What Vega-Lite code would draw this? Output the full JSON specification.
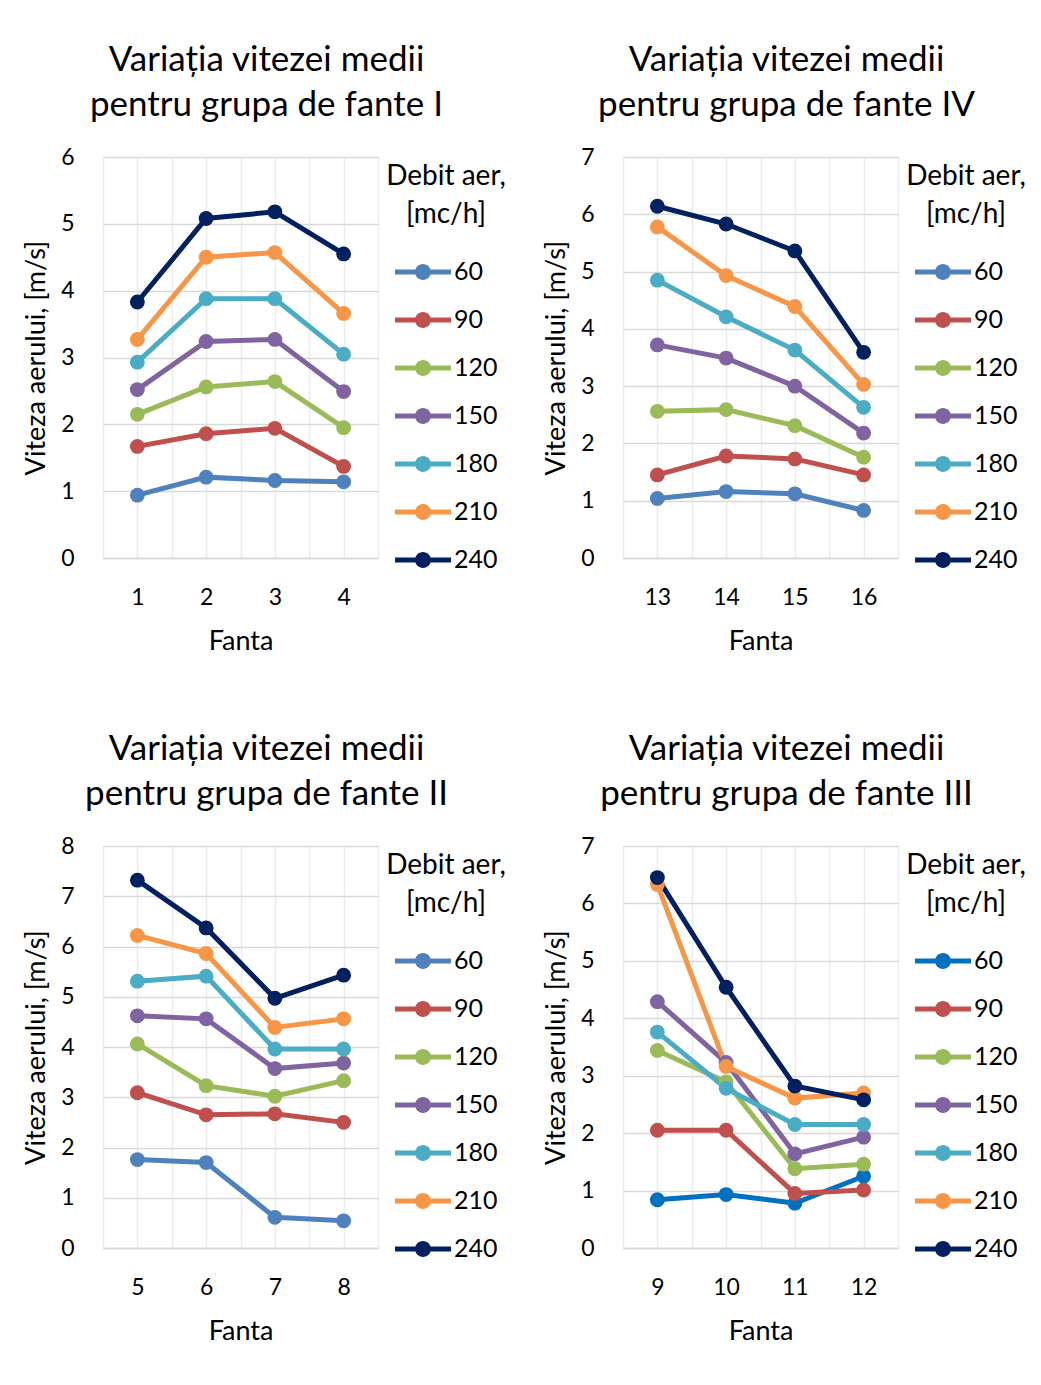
{
  "$schema": "https://vega.github.io/schema/vega-lite/v6.json",
  "background": "white",
  "padding": {"left": 22, "top": 43, "right": 5, "bottom": 5},
  "config": {
    "font": "Lato",
    "view": {"stroke": null},
    "axis": {"labelFont": "Lato", "titleFont": "Lato", "labelFontSize": 23, "titleFontSize": 27, "titleFontWeight": "normal", "labelColor": "#000000", "titleColor": "#000000", "ticks": false},
    "axisX": {"gridColor": "#ececec", "gridWidth": 1.5, "domainColor": "#d9d9d9", "domainWidth": 1.5, "labelPadding": 28, "titlePadding": 19, "format": "d"},
    "axisY": {"gridColor": "#d9d9d9", "gridWidth": 1.5, "domain": false, "labelPadding": 29, "titlePadding": 10},
    "title": {"font": "Lato", "fontSize": 35, "fontWeight": "normal", "lineHeight": 45, "anchor": "middle", "offset": 23, "color": "#000000", "dx": 26}
  },
  "datasets": {
    "g1": [
      {"fanta": 1, "debit": 60, "viteza": 0.94}, {"fanta": 2, "debit": 60, "viteza": 1.21}, {"fanta": 3, "debit": 60, "viteza": 1.16}, {"fanta": 4, "debit": 60, "viteza": 1.14},
      {"fanta": 1, "debit": 90, "viteza": 1.67}, {"fanta": 2, "debit": 90, "viteza": 1.86}, {"fanta": 3, "debit": 90, "viteza": 1.94}, {"fanta": 4, "debit": 90, "viteza": 1.37},
      {"fanta": 1, "debit": 120, "viteza": 2.15}, {"fanta": 2, "debit": 120, "viteza": 2.56}, {"fanta": 3, "debit": 120, "viteza": 2.64}, {"fanta": 4, "debit": 120, "viteza": 1.95},
      {"fanta": 1, "debit": 150, "viteza": 2.52}, {"fanta": 2, "debit": 150, "viteza": 3.24}, {"fanta": 3, "debit": 150, "viteza": 3.27}, {"fanta": 4, "debit": 150, "viteza": 2.49},
      {"fanta": 1, "debit": 180, "viteza": 2.93}, {"fanta": 2, "debit": 180, "viteza": 3.88}, {"fanta": 3, "debit": 180, "viteza": 3.88}, {"fanta": 4, "debit": 180, "viteza": 3.05},
      {"fanta": 1, "debit": 210, "viteza": 3.27}, {"fanta": 2, "debit": 210, "viteza": 4.50}, {"fanta": 3, "debit": 210, "viteza": 4.57}, {"fanta": 4, "debit": 210, "viteza": 3.66},
      {"fanta": 1, "debit": 240, "viteza": 3.83}, {"fanta": 2, "debit": 240, "viteza": 5.08}, {"fanta": 3, "debit": 240, "viteza": 5.18}, {"fanta": 4, "debit": 240, "viteza": 4.55}
    ],
    "g4": [
      {"fanta": 13, "debit": 60, "viteza": 1.04}, {"fanta": 14, "debit": 60, "viteza": 1.16}, {"fanta": 15, "debit": 60, "viteza": 1.12}, {"fanta": 16, "debit": 60, "viteza": 0.83},
      {"fanta": 13, "debit": 90, "viteza": 1.45}, {"fanta": 14, "debit": 90, "viteza": 1.78}, {"fanta": 15, "debit": 90, "viteza": 1.73}, {"fanta": 16, "debit": 90, "viteza": 1.45},
      {"fanta": 13, "debit": 120, "viteza": 2.56}, {"fanta": 14, "debit": 120, "viteza": 2.59}, {"fanta": 15, "debit": 120, "viteza": 2.31}, {"fanta": 16, "debit": 120, "viteza": 1.76},
      {"fanta": 13, "debit": 150, "viteza": 3.72}, {"fanta": 14, "debit": 150, "viteza": 3.49}, {"fanta": 15, "debit": 150, "viteza": 3.00}, {"fanta": 16, "debit": 150, "viteza": 2.18},
      {"fanta": 13, "debit": 180, "viteza": 4.85}, {"fanta": 14, "debit": 180, "viteza": 4.21}, {"fanta": 15, "debit": 180, "viteza": 3.63}, {"fanta": 16, "debit": 180, "viteza": 2.63},
      {"fanta": 13, "debit": 210, "viteza": 5.78}, {"fanta": 14, "debit": 210, "viteza": 4.93}, {"fanta": 15, "debit": 210, "viteza": 4.39}, {"fanta": 16, "debit": 210, "viteza": 3.03},
      {"fanta": 13, "debit": 240, "viteza": 6.14}, {"fanta": 14, "debit": 240, "viteza": 5.83}, {"fanta": 15, "debit": 240, "viteza": 5.36}, {"fanta": 16, "debit": 240, "viteza": 3.59}
    ],
    "g2": [
      {"fanta": 5, "debit": 60, "viteza": 1.76}, {"fanta": 6, "debit": 60, "viteza": 1.70}, {"fanta": 7, "debit": 60, "viteza": 0.61}, {"fanta": 8, "debit": 60, "viteza": 0.54},
      {"fanta": 5, "debit": 90, "viteza": 3.09}, {"fanta": 6, "debit": 90, "viteza": 2.65}, {"fanta": 7, "debit": 90, "viteza": 2.67}, {"fanta": 8, "debit": 90, "viteza": 2.50},
      {"fanta": 5, "debit": 120, "viteza": 4.06}, {"fanta": 6, "debit": 120, "viteza": 3.23}, {"fanta": 7, "debit": 120, "viteza": 3.02}, {"fanta": 8, "debit": 120, "viteza": 3.33},
      {"fanta": 5, "debit": 150, "viteza": 4.62}, {"fanta": 6, "debit": 150, "viteza": 4.56}, {"fanta": 7, "debit": 150, "viteza": 3.57}, {"fanta": 8, "debit": 150, "viteza": 3.68},
      {"fanta": 5, "debit": 180, "viteza": 5.31}, {"fanta": 6, "debit": 180, "viteza": 5.41}, {"fanta": 7, "debit": 180, "viteza": 3.96}, {"fanta": 8, "debit": 180, "viteza": 3.96},
      {"fanta": 5, "debit": 210, "viteza": 6.22}, {"fanta": 6, "debit": 210, "viteza": 5.86}, {"fanta": 7, "debit": 210, "viteza": 4.39}, {"fanta": 8, "debit": 210, "viteza": 4.56},
      {"fanta": 5, "debit": 240, "viteza": 7.32}, {"fanta": 6, "debit": 240, "viteza": 6.37}, {"fanta": 7, "debit": 240, "viteza": 4.97}, {"fanta": 8, "debit": 240, "viteza": 5.43}
    ],
    "g3": [
      {"fanta": 9, "debit": 60, "viteza": 0.84}, {"fanta": 10, "debit": 60, "viteza": 0.93}, {"fanta": 11, "debit": 60, "viteza": 0.78}, {"fanta": 12, "debit": 60, "viteza": 1.25},
      {"fanta": 9, "debit": 90, "viteza": 2.05}, {"fanta": 10, "debit": 90, "viteza": 2.05}, {"fanta": 11, "debit": 90, "viteza": 0.95}, {"fanta": 12, "debit": 90, "viteza": 1.01},
      {"fanta": 9, "debit": 120, "viteza": 3.44}, {"fanta": 10, "debit": 120, "viteza": 2.89}, {"fanta": 11, "debit": 120, "viteza": 1.38}, {"fanta": 12, "debit": 120, "viteza": 1.46},
      {"fanta": 9, "debit": 150, "viteza": 4.29}, {"fanta": 10, "debit": 150, "viteza": 3.23}, {"fanta": 11, "debit": 150, "viteza": 1.64}, {"fanta": 12, "debit": 150, "viteza": 1.93},
      {"fanta": 9, "debit": 180, "viteza": 3.76}, {"fanta": 10, "debit": 180, "viteza": 2.78}, {"fanta": 11, "debit": 180, "viteza": 2.15}, {"fanta": 12, "debit": 180, "viteza": 2.15},
      {"fanta": 9, "debit": 210, "viteza": 6.33}, {"fanta": 10, "debit": 210, "viteza": 3.16}, {"fanta": 11, "debit": 210, "viteza": 2.61}, {"fanta": 12, "debit": 210, "viteza": 2.70},
      {"fanta": 9, "debit": 240, "viteza": 6.45}, {"fanta": 10, "debit": 240, "viteza": 4.54}, {"fanta": 11, "debit": 240, "viteza": 2.82}, {"fanta": 12, "debit": 240, "viteza": 2.58}
    ]
  },
  "bounds": "flush",
  "spacing": 689,
  "resolve": {"scale": {"color": "independent"}, "legend": {"color": "independent"}},
  "vconcat": [
    {
      "bounds": "flush",
      "spacing": 245,
      "resolve": {"scale": {"color": "independent"}, "legend": {"color": "independent"}},
      "hconcat": [
        {
          "width": 275, "height": 401,
          "title": {"text": ["Variația vitezei medii", "pentru grupa de fante I"]},
          "data": {"name": "g1"},
          "encoding": {
            "x": {"field": "fanta", "type": "quantitative", "scale": {"domain": [0.5, 4.5], "nice": false}, "axis": {"values": [0.5, 1, 1.5, 2, 2.5, 3, 3.5, 4, 4.5], "labelExpr": "datum.value % 1 === 0 ? datum.label : ''", "title": "Fanta"}},
            "y": {"field": "viteza", "type": "quantitative", "scale": {"domain": [0, 6], "nice": false}, "axis": {"values": [0, 1, 2, 3, 4, 5, 6], "title": "Viteza aerului, [m/s]"}},
            "color": {"field": "debit", "type": "ordinal", "scale": {"domain": [60, 90, 120, 150, 180, 210, 240], "range": ["#4F81BD", "#C0504D", "#9BBB59", "#8064A2", "#4BACC6", "#F79646", "#002060"]}, "legend": {"title": ["Debit aer,", "[mc/h]"], "titleFontSize": 28, "titleFontWeight": "normal", "labelFontSize": 25, "titleAlign": "center", "titleAnchor": "middle", "titleLineHeight": 38, "titlePadding": 29, "symbolType": "M-1,-0.18L3,-0.18L3,0.18L-1,0.18Z M0.43,0A0.57,0.57 0 1,1 1.57,0A0.57,0.57 0 1,1 0.43,0Z", "symbolSize": 784, "symbolStrokeWidth": 0, "symbolOpacity": 1, "labelOffset": 31, "rowPadding": 21, "offset": 2, "padding": 6, "labelColor": "#000000", "titleColor": "#000000", "titleLimit": 300}}
          },
          "layer": [
            {"mark": {"type": "line", "strokeWidth": 5}},
            {"mark": {"type": "point", "filled": true, "size": 220, "opacity": 1}}
          ]
        },
        {
          "width": 275, "height": 401,
          "title": {"text": ["Variația vitezei medii", "pentru grupa de fante IV"]},
          "data": {"name": "g4"},
          "encoding": {
            "x": {"field": "fanta", "type": "quantitative", "scale": {"domain": [12.5, 16.5], "nice": false}, "axis": {"values": [12.5, 13, 13.5, 14, 14.5, 15, 15.5, 16, 16.5], "labelExpr": "datum.value % 1 === 0 ? datum.label : ''", "title": "Fanta"}},
            "y": {"field": "viteza", "type": "quantitative", "scale": {"domain": [0, 7], "nice": false}, "axis": {"values": [0, 1, 2, 3, 4, 5, 6, 7], "title": "Viteza aerului, [m/s]"}},
            "color": {"field": "debit", "type": "ordinal", "scale": {"domain": [60, 90, 120, 150, 180, 210, 240], "range": ["#4F81BD", "#C0504D", "#9BBB59", "#8064A2", "#4BACC6", "#F79646", "#002060"]}, "legend": {"title": ["Debit aer,", "[mc/h]"], "titleFontSize": 28, "titleFontWeight": "normal", "labelFontSize": 25, "titleAlign": "center", "titleAnchor": "middle", "titleLineHeight": 38, "titlePadding": 29, "symbolType": "M-1,-0.18L3,-0.18L3,0.18L-1,0.18Z M0.43,0A0.57,0.57 0 1,1 1.57,0A0.57,0.57 0 1,1 0.43,0Z", "symbolSize": 784, "symbolStrokeWidth": 0, "symbolOpacity": 1, "labelOffset": 31, "rowPadding": 21, "offset": 2, "padding": 6, "labelColor": "#000000", "titleColor": "#000000", "titleLimit": 300}}
          },
          "layer": [
            {"mark": {"type": "line", "strokeWidth": 5}},
            {"mark": {"type": "point", "filled": true, "size": 220, "opacity": 1}}
          ]
        }
      ]
    },
    {
      "bounds": "flush",
      "spacing": 245,
      "resolve": {"scale": {"color": "independent"}, "legend": {"color": "independent"}},
      "hconcat": [
        {
          "width": 275, "height": 402,
          "title": {"text": ["Variația vitezei medii", "pentru grupa de fante II"]},
          "data": {"name": "g2"},
          "encoding": {
            "x": {"field": "fanta", "type": "quantitative", "scale": {"domain": [4.5, 8.5], "nice": false}, "axis": {"values": [4.5, 5, 5.5, 6, 6.5, 7, 7.5, 8, 8.5], "labelExpr": "datum.value % 1 === 0 ? datum.label : ''", "title": "Fanta"}},
            "y": {"field": "viteza", "type": "quantitative", "scale": {"domain": [0, 8], "nice": false}, "axis": {"values": [0, 1, 2, 3, 4, 5, 6, 7, 8], "title": "Viteza aerului, [m/s]"}},
            "color": {"field": "debit", "type": "ordinal", "scale": {"domain": [60, 90, 120, 150, 180, 210, 240], "range": ["#4F81BD", "#C0504D", "#9BBB59", "#8064A2", "#4BACC6", "#F79646", "#002060"]}, "legend": {"title": ["Debit aer,", "[mc/h]"], "titleFontSize": 28, "titleFontWeight": "normal", "labelFontSize": 25, "titleAlign": "center", "titleAnchor": "middle", "titleLineHeight": 38, "titlePadding": 29, "symbolType": "M-1,-0.18L3,-0.18L3,0.18L-1,0.18Z M0.43,0A0.57,0.57 0 1,1 1.57,0A0.57,0.57 0 1,1 0.43,0Z", "symbolSize": 784, "symbolStrokeWidth": 0, "symbolOpacity": 1, "labelOffset": 31, "rowPadding": 21, "offset": 2, "padding": 6, "labelColor": "#000000", "titleColor": "#000000", "titleLimit": 300}}
          },
          "layer": [
            {"mark": {"type": "line", "strokeWidth": 5}},
            {"mark": {"type": "point", "filled": true, "size": 220, "opacity": 1}}
          ]
        },
        {
          "width": 275, "height": 402,
          "title": {"text": ["Variația vitezei medii", "pentru grupa de fante III"]},
          "data": {"name": "g3"},
          "encoding": {
            "x": {"field": "fanta", "type": "quantitative", "scale": {"domain": [8.5, 12.5], "nice": false}, "axis": {"values": [8.5, 9, 9.5, 10, 10.5, 11, 11.5, 12, 12.5], "labelExpr": "datum.value % 1 === 0 ? datum.label : ''", "title": "Fanta"}},
            "y": {"field": "viteza", "type": "quantitative", "scale": {"domain": [0, 7], "nice": false}, "axis": {"values": [0, 1, 2, 3, 4, 5, 6, 7], "title": "Viteza aerului, [m/s]"}},
            "color": {"field": "debit", "type": "ordinal", "scale": {"domain": [60, 90, 120, 150, 180, 210, 240], "range": ["#0070C0", "#C0504D", "#9BBB59", "#8064A2", "#4BACC6", "#F79646", "#002060"]}, "legend": {"title": ["Debit aer,", "[mc/h]"], "titleFontSize": 28, "titleFontWeight": "normal", "labelFontSize": 25, "titleAlign": "center", "titleAnchor": "middle", "titleLineHeight": 38, "titlePadding": 29, "symbolType": "M-1,-0.18L3,-0.18L3,0.18L-1,0.18Z M0.43,0A0.57,0.57 0 1,1 1.57,0A0.57,0.57 0 1,1 0.43,0Z", "symbolSize": 784, "symbolStrokeWidth": 0, "symbolOpacity": 1, "labelOffset": 31, "rowPadding": 21, "offset": 2, "padding": 6, "labelColor": "#000000", "titleColor": "#000000", "titleLimit": 300}}
          },
          "layer": [
            {"mark": {"type": "line", "strokeWidth": 5}},
            {"mark": {"type": "point", "filled": true, "size": 220, "opacity": 1}}
          ]
        }
      ]
    }
  ]
}
